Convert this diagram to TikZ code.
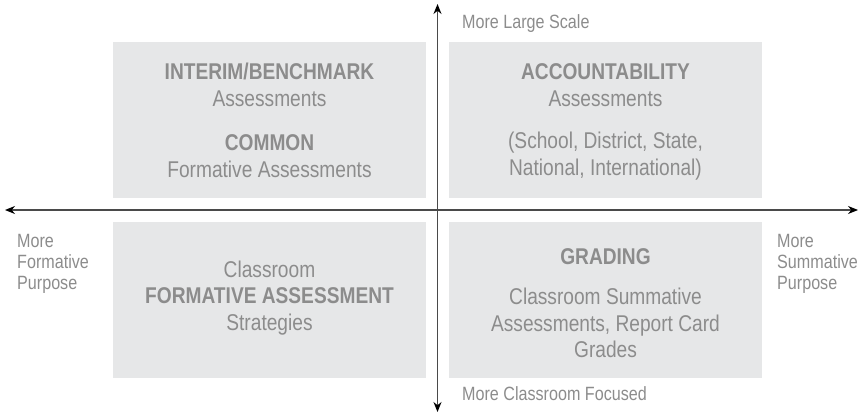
\documentclass[tikz,border=0pt]{standalone}
\usepackage{fontspec}
\setmainfont{Liberation Sans}[FakeStretch=0.84]
\usetikzlibrary{arrows.meta}
\definecolor{boxfill}{HTML}{E6E7E8}
\definecolor{txtgray}{HTML}{8C8C8C}
\definecolor{axisgray}{HTML}{4A4A4A}
\begin{document}
\begin{tikzpicture}[x=1pt,y=-1pt,
  quadrant/.style={fill=boxfill, draw=none, minimum width=313pt, minimum height=156pt, inner sep=0pt},
  boxtext/.style={text=txtgray, align=center, inner sep=0pt, font=\fontsize{22.8}{26.5}\selectfont},
  sidelabel/.style={text=txtgray, align=left, inner sep=0pt, font=\fontsize{19.2}{21}\selectfont},
  axis/.style={draw=axisgray, line width=1.3pt, {Stealth[length=10pt,width=8pt,black]}-{Stealth[length=10pt,width=8pt,black]}}
]
\useasboundingbox (0,0) rectangle (860,415);

% four quadrants
\node[quadrant] (tl) at (269.5,120) {};
\node[quadrant] (tr) at (605.5,120) {};
\node[quadrant] (bl) at (269.5,300) {};
\node[quadrant] (br) at (605.5,300) {};

% axis end points
\coordinate (west)  at (5,210);
\coordinate (east)  at (858,210);
\coordinate (north) at (437.5,4);
\coordinate (south) at (437.5,412);
\draw[axis] (west) -- (east);
\draw[axis] (south) -- (north);

% quadrant texts
\node[boxtext] (tl1) at (269.5,85)  {\textbf{INTERIM/BENCHMARK}\\Assessments};
\node[boxtext] (tl2) at (269.5,156) {\textbf{COMMON}\\Formative Assessments};
\node[boxtext] (tr1) at (605.5,85)  {\textbf{ACCOUNTABILITY}\\Assessments};
\node[boxtext] (tr2) at (605.5,156) {(School, District, State,\\National, International)};
\node[boxtext] (bl1) at (269.5,298) {Classroom\\\textbf{FORMATIVE ASSESSMENT}\\Strategies};
\node[boxtext] (br1) at (605.5,257) {\textbf{GRADING}};
\node[boxtext] (br2) at (605.5,323) {Classroom Summative\\Assessments, Report Card\\Grades};

% axis labels
\node[sidelabel, anchor=west] (top)    at (462,24)  {More Large Scale};
\node[sidelabel, anchor=west] (bottom) at (462,394) {More Classroom Focused};
\node[sidelabel, anchor=west] (left)   at (17,264)  {More\\Formative\\Purpose};
\node[sidelabel, anchor=west] (right)  at (777,264) {More\\Summative\\Purpose};
\end{tikzpicture}
\end{document}
